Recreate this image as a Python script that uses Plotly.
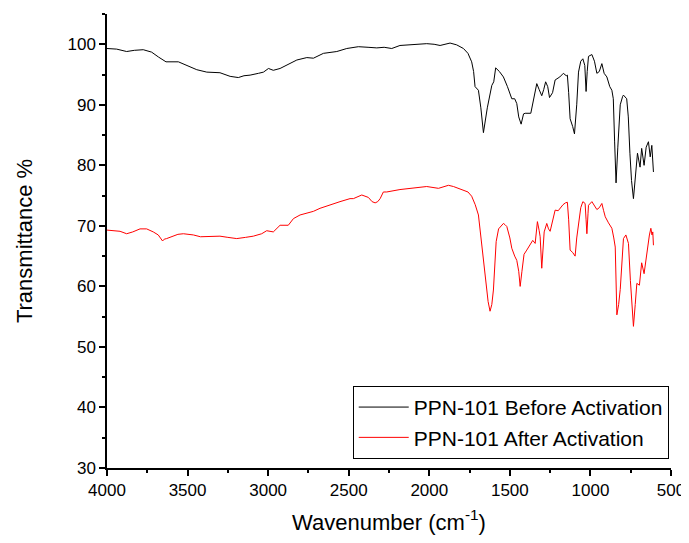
import plotly.graph_objects as go

# Wavenumber (cm-1) and transmittance (%)
before_wn = [4000, 3940, 3878, 3830, 3775, 3723, 3681, 3634, 3557, 3516, 3443, 3381, 3299, 3236,
             3185, 3150, 3112, 3060, 3029, 2998, 2968, 2926, 2885, 2822, 2760, 2719, 2657, 2574,
             2512, 2440, 2380, 2326, 2280, 2233, 2182, 2100, 2016, 1970, 1933, 1871, 1830, 1788,
             1760, 1737, 1725, 1716, 1705, 1695, 1680, 1664, 1640, 1612, 1600, 1588, 1565, 1540,
             1515, 1488, 1470, 1457, 1445, 1430, 1415, 1405, 1370, 1350, 1333, 1318, 1302, 1290,
             1278, 1265, 1254, 1235, 1219, 1190, 1168, 1150, 1143, 1135, 1126, 1110, 1099, 1085,
             1074, 1060, 1047, 1035, 1027, 1020, 1012, 991, 975, 960, 945, 929, 915, 898, 880, 867,
             858, 850, 841, 830, 815, 800, 795, 775, 765, 755, 745, 733, 722, 708, 692, 682, 667,
             654, 640, 629, 619, 614, 609]
before_t = [99.3, 99.2, 98.8, 99.0, 99.1, 98.7, 97.9, 97.1, 97.1, 96.6, 95.8, 95.4, 95.3, 94.7,
            94.5, 94.8, 94.9, 95.2, 95.4, 96.0, 95.7, 96.0, 96.6, 97.4, 97.8, 97.7, 98.5, 98.8,
            99.3, 99.6, 99.5, 99.4, 99.5, 99.3, 99.8, 99.9, 100.1, 100.0, 99.8, 100.2, 99.9, 99.3,
            98.5, 97.1, 95.5, 93.0, 92.6, 92.4, 89.5, 85.4, 89.5, 93.2, 93.8, 96.1, 95.5, 94.6,
            93.0, 91.0, 91.0, 90.2, 88.0, 86.8, 88.5, 88.6, 88.6, 91.5, 93.5, 92.5, 91.5, 92.5,
            93.8, 93.0, 91.2, 92.0, 94.1, 94.6, 95.2, 94.8, 94.9, 92.0, 87.7, 86.4, 85.2, 90.0,
            95.4, 97.2, 97.6, 96.5, 92.2, 95.5, 98.0, 98.3, 97.2, 95.2, 95.5, 96.8, 95.2, 94.6, 93.0, 92.4,
            91.0, 84.0, 77.1, 83.0, 90.0, 91.4, 91.6, 91.0, 88.0, 82.0, 77.5, 74.5, 78.0, 82.0, 79.7, 82.8, 80.0,
            83.0, 83.9, 81.4, 83.3, 80.5, 78.9]

after_wn = [4000, 3960, 3919, 3878, 3840, 3795, 3754, 3713, 3682, 3655, 3645, 3630, 3588, 3560,
            3526, 3464, 3420, 3381, 3340, 3299, 3250, 3195, 3140, 3092, 3040, 3009, 2968, 2926,
            2875, 2843, 2802, 2760, 2719, 2678, 2636, 2554, 2492, 2471, 2419, 2378, 2355, 2336,
            2320, 2305, 2285, 2264, 2182, 2100, 2016, 1943, 1920, 1881, 1850, 1819, 1788, 1760,
            1737, 1715, 1695, 1675, 1654, 1635, 1623, 1612, 1602, 1590, 1585, 1570, 1555, 1540,
            1530, 1519, 1500, 1488, 1470, 1457, 1445, 1436, 1425, 1412, 1395, 1375, 1358, 1343,
            1329, 1318, 1312, 1302, 1295, 1287, 1271, 1260, 1250, 1235, 1219, 1200, 1188, 1170,
            1155, 1143, 1135, 1126, 1110, 1095, 1085, 1074, 1060, 1047, 1033, 1027, 1022, 1015,
            1012, 991, 975, 960, 945, 929, 918, 908, 888, 867, 855, 846, 836, 825, 815, 805, 795,
            780, 764, 752, 742, 733, 722, 712, 696, 682, 667, 655, 646, 634, 625, 618, 613, 609]
after_t = [69.3, 69.2, 69.1, 68.7, 69.0, 69.5, 69.5, 69.0, 68.5, 67.5, 67.8, 67.9, 68.3, 68.6,
           68.7, 68.5, 68.2, 68.2, 68.3, 68.3, 68.1, 67.9, 68.1, 68.3, 68.7, 69.2, 69.0, 70.1,
           70.1, 71.2, 71.8, 72.1, 72.4, 72.9, 73.3, 74.0, 74.5, 74.5, 75.1, 74.7, 74.0, 73.8,
           74.0, 74.5, 75.6, 75.6, 76.0, 76.2, 76.5, 76.2, 76.4, 76.7, 76.5, 76.2, 76.0, 75.6,
           74.9, 73.5, 71.8, 67.0, 61.6, 57.5, 55.9, 57.0, 59.4, 64.0, 67.4, 69.5, 70.0, 70.4,
           70.2, 69.9, 68.0, 66.3, 65.0, 64.3, 62.5, 60.0, 62.5, 65.3, 66.0, 66.8, 67.6, 67.1,
           70.7, 69.2, 68.2, 63.0, 66.5, 69.0, 70.4, 69.5, 69.1, 71.0, 72.6, 72.5, 72.9, 73.5,
           73.8, 73.9, 71.0, 66.0, 65.6, 65.0, 68.0, 70.7, 73.0, 74.0, 73.7, 71.0, 68.7, 72.0,
           73.4, 74.0, 73.2, 72.7, 73.0, 73.7, 72.5, 71.5, 70.5, 69.6, 68.0, 66.5, 55.3, 57.0, 59.5, 63.5, 67.9,
           68.5, 67.1, 61.0, 56.0, 53.4, 57.0, 60.5, 60.2, 63.9, 62.1, 64.5, 66.4, 68.5, 69.6, 68.5, 69.0, 66.8]

series_names = ["PPN-101 Before Activation", "PPN-101 After Activation"]
x_ticks = [4000, 3500, 3000, 2500, 2000, 1500, 1000, 500]

FONT = "Arial, 'Liberation Sans', sans-serif"

fig = go.Figure()
fig.add_trace(go.Scatter(x=before_wn, y=before_t, mode="lines", name=series_names[0],
                         line=dict(color="black", width=1)))
fig.add_trace(go.Scatter(x=after_wn, y=after_t, mode="lines", name=series_names[1],
                         line=dict(color="red", width=1)))

axis_common = dict(showline=True, linecolor="black", linewidth=1.5, ticks="outside",
                   ticklen=6, tickwidth=1.5, tickcolor="black", showgrid=False, zeroline=False,
                   mirror=False, automargin=False,
                   tickfont=dict(family=FONT, size=17, color="black"))

# page has an 8px body margin, so the figure is sized to fit the 689x543 window
fig.update_layout(
    width=681, height=535,
    paper_bgcolor="white", plot_bgcolor="white",
    margin=dict(l=99, r=18, t=6, b=75),
    font=dict(family=FONT, color="black"),
    showlegend=True,
    legend=dict(x=0.996, xanchor="right", y=0.02, yanchor="bottom",
                bordercolor="black", borderwidth=1, bgcolor="white",
                font=dict(family=FONT, size=21, color="black"),
                tracegroupgap=0, itemwidth=50),
    xaxis=dict(range=[4000, 500], tickvals=x_ticks,
               minor=dict(ticks="outside", ticklen=3, tickwidth=1.5, tickcolor="black", dtick=250),
               title=dict(text="Wavenumber (cm<sup>-1</sup>)", font=dict(family=FONT, size=22),
                          standoff=15),
               **axis_common),
    yaxis=dict(range=[30, 105], tick0=30, dtick=10,
               minor=dict(ticks="outside", ticklen=3, tickwidth=1.5, tickcolor="black", dtick=5),
               title=dict(text="Transmittance %", font=dict(family=FONT, size=22), standoff=29),
               **axis_common),
)

fig.write_html("out.html")
